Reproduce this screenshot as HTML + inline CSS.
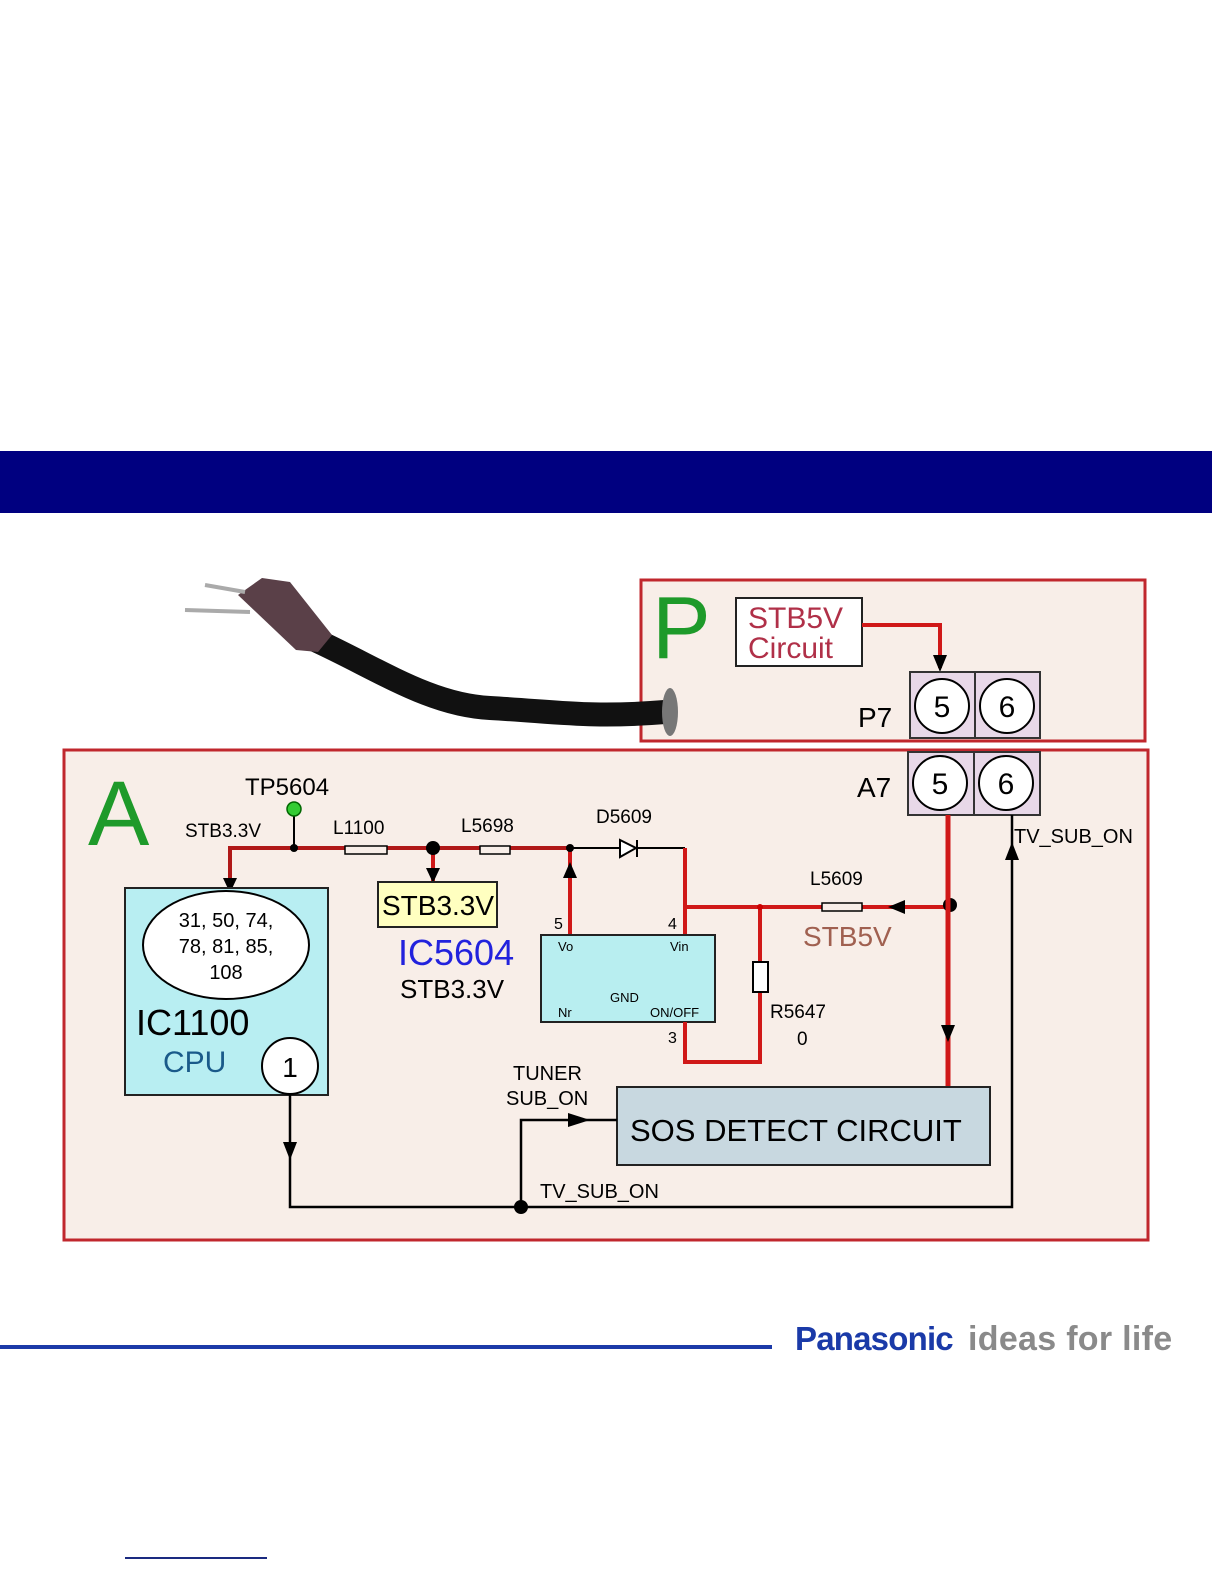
<!DOCTYPE html>
<html><head><meta charset="utf-8"><style>
html,body{margin:0;padding:0;background:#fff}
svg{display:block}
text{font-family:"Liberation Sans",Arial,sans-serif}
</style></head><body>
<svg width="1224" height="1584" viewBox="0 0 1224 1584" xmlns="http://www.w3.org/2000/svg">
<rect x="0" y="451" width="1212" height="62" fill="#000080"/>

<!-- P box -->
<rect x="641" y="580" width="504" height="161" fill="#f8eee8" stroke="#c0272d" stroke-width="3"/>
<!-- A box -->
<rect x="64" y="750" width="1084" height="490" fill="#f8eee8" stroke="#c0272d" stroke-width="3"/>

<!-- cord -->
<path d="M315,640 C380,670 430,705 490,708 C560,712 590,718 665,712" fill="none" stroke="#111" stroke-width="24" stroke-linecap="round"/>
<ellipse cx="670" cy="712" rx="8" ry="24" fill="#777"/>
<path d="M238,595 L262,578 L290,582 L332,635 L318,652 L296,650 Z" fill="#5a4048"/>
<line x1="205" y1="585" x2="245" y2="592" stroke="#aaa" stroke-width="4"/>
<line x1="185" y1="610" x2="250" y2="612" stroke="#aaa" stroke-width="4"/>

<text x="652" y="658" font-size="88" fill="#1e9a2a">P</text>
<rect x="736" y="598" width="126" height="68" fill="#fff" stroke="#222" stroke-width="2"/>
<text x="748" y="628" font-size="30" fill="#b03048">STB5V</text>
<text x="748" y="658" font-size="30" fill="#b03048">Circuit</text>
<path d="M862,625 H940 V668" fill="none" stroke="#d01818" stroke-width="4"/>
<path d="M933,655 L947,655 L940,672 Z" fill="#000"/>

<rect x="910" y="672" width="65" height="66" fill="#e8d8e8" stroke="#333" stroke-width="2"/>
<rect x="975" y="672" width="65" height="66" fill="#e8d8e8" stroke="#333" stroke-width="2"/>
<circle cx="942" cy="706" r="27" fill="#fff" stroke="#000" stroke-width="2"/>
<circle cx="1007" cy="706" r="27" fill="#fff" stroke="#000" stroke-width="2"/>
<text x="942" y="717" font-size="30" text-anchor="middle">5</text>
<text x="1007" y="717" font-size="30" text-anchor="middle">6</text>
<text x="858" y="727" font-size="28">P7</text>

<rect x="908" y="752" width="66" height="63" fill="#e8d8e8" stroke="#333" stroke-width="2"/>
<rect x="974" y="752" width="66" height="63" fill="#e8d8e8" stroke="#333" stroke-width="2"/>
<circle cx="940" cy="783" r="27" fill="#fff" stroke="#000" stroke-width="2"/>
<circle cx="1006" cy="783" r="27" fill="#fff" stroke="#000" stroke-width="2"/>
<text x="940" y="794" font-size="30" text-anchor="middle">5</text>
<text x="1006" y="794" font-size="30" text-anchor="middle">6</text>
<text x="857" y="797" font-size="28">A7</text>

<text x="88" y="845" font-size="92" fill="#1e9a2a">A</text>
<text x="245" y="795" font-size="24">TP5604</text>
<text x="185" y="837" font-size="19">STB3.3V</text>
<text x="333" y="834" font-size="19">L1100</text>
<text x="461" y="832" font-size="19">L5698</text>
<text x="596" y="823" font-size="19">D5609</text>

<path d="M230,890 V848 H570" fill="none" stroke="#b01818" stroke-width="4"/>
<path d="M223,878 L237,878 L230,893 Z" fill="#000"/>
<line x1="294" y1="848" x2="294" y2="812" stroke="#000" stroke-width="2"/>
<circle cx="294" cy="809" r="7" fill="#3c3" stroke="#060" stroke-width="1.5"/>
<circle cx="294" cy="848" r="4" fill="#000"/>
<rect x="345" y="846" width="42" height="8" fill="#f8eee8" stroke="#000" stroke-width="1.5"/>
<rect x="480" y="846" width="30" height="8" fill="#f8eee8" stroke="#000" stroke-width="1.5"/>
<path d="M433,848 V882" stroke="#d01818" stroke-width="4"/>
<circle cx="433" cy="848" r="7" fill="#000"/>
<path d="M426,868 L440,868 L433,883 Z" fill="#000"/>
<rect x="378" y="882" width="119" height="45" fill="#ffffc0" stroke="#222" stroke-width="2"/>
<text x="382" y="915" font-size="28">STB3.3V</text>
<text x="398" y="965" font-size="36" fill="#2222dd">IC5604</text>
<text x="400" y="998" font-size="26">STB3.3V</text>

<line x1="570" y1="848" x2="685" y2="848" stroke="#000" stroke-width="2"/>
<path d="M620,840 L620,857 L636,848 Z" fill="#fff" stroke="#000" stroke-width="2"/>
<line x1="637" y1="840" x2="637" y2="857" stroke="#000" stroke-width="2"/>
<path d="M685,848 V935" fill="none" stroke="#d01818" stroke-width="4"/>
<path d="M570,935 V848" stroke="#d01818" stroke-width="4"/>
<circle cx="570" cy="848" r="4" fill="#000"/>
<path d="M563,878 L577,878 L570,862 Z" fill="#000"/>

<rect x="541" y="935" width="174" height="87" fill="#b8eef0" stroke="#222" stroke-width="2"/>
<text x="558" y="951" font-size="13">Vo</text>
<text x="670" y="951" font-size="13">Vin</text>
<text x="610" y="1002" font-size="13">GND</text>
<text x="558" y="1017" font-size="13">Nr</text>
<text x="650" y="1017" font-size="13">ON/OFF</text>
<text x="554" y="929" font-size="16">5</text>
<text x="668" y="929" font-size="16">4</text>
<text x="668" y="1043" font-size="16">3</text>

<path d="M685,907 H950" fill="none" stroke="#d01818" stroke-width="4"/>
<path d="M760,907 V962 M760,992 V1062 H685 V1022" fill="none" stroke="#d01818" stroke-width="4"/>
<circle cx="760" cy="907" r="3" fill="#c00"/>
<rect x="753" y="962" width="15" height="30" fill="#fff" stroke="#000" stroke-width="2"/>
<rect x="822" y="903" width="40" height="8" fill="#f8eee8" stroke="#000" stroke-width="1.5"/>
<path d="M888,907 L905,900 L905,914 Z" fill="#000"/>
<circle cx="950" cy="905" r="7" fill="#000"/>
<text x="810" y="885" font-size="19">L5609</text>
<text x="803" y="946" font-size="28" fill="#a06050">STB5V</text>
<text x="770" y="1018" font-size="19">R5647</text>
<text x="797" y="1045" font-size="19">0</text>
<path d="M948,815 V1087" stroke="#d01818" stroke-width="5"/>
<path d="M941,1025 L955,1025 L948,1042 Z" fill="#000"/>

<rect x="617" y="1087" width="373" height="78" fill="#c8d8e0" stroke="#222" stroke-width="2"/>
<text x="630" y="1141" font-size="31">SOS DETECT CIRCUIT</text>

<rect x="125" y="888" width="203" height="207" fill="#b8eef2" stroke="#222" stroke-width="2"/>
<ellipse cx="226" cy="945" rx="83" ry="54" fill="#fff" stroke="#000" stroke-width="2"/>
<text x="226" y="927" font-size="20" text-anchor="middle">31, 50, 74,</text>
<text x="226" y="953" font-size="20" text-anchor="middle">78, 81, 85,</text>
<text x="226" y="979" font-size="20" text-anchor="middle">108</text>
<text x="136" y="1035" font-size="36">IC1100</text>
<text x="163" y="1072" font-size="30" fill="#1a5a8a">CPU</text>
<circle cx="290" cy="1066" r="28" fill="#fff" stroke="#000" stroke-width="2"/>
<text x="290" y="1077" font-size="28" text-anchor="middle">1</text>

<path d="M290,1095 V1207 H1012 V815" fill="none" stroke="#000" stroke-width="2.5"/>
<path d="M283,1142 L297,1142 L290,1160 Z" fill="#000"/>
<path d="M1005,860 L1019,860 L1012,842 Z" fill="#000"/>
<path d="M521,1207 V1120 H617" fill="none" stroke="#000" stroke-width="2.5"/>
<path d="M568,1113 L590,1120 L568,1127 Z" fill="#000"/>
<circle cx="521" cy="1207" r="7" fill="#000"/>
<text x="513" y="1080" font-size="20">TUNER</text>
<text x="506" y="1105" font-size="20">SUB_ON</text>
<text x="540" y="1198" font-size="20">TV_SUB_ON</text>
<text x="1014" y="843" font-size="20">TV_SUB_ON</text>

<rect x="0" y="1345" width="772" height="4" fill="#1c3aa8"/>
<text x="795" y="1350" font-size="33" font-weight="bold" fill="#1a3aa8" letter-spacing="-0.8">Panasonic</text>
<text x="968" y="1350" font-size="34" font-weight="bold" fill="#8a8a8a" letter-spacing="0.3">ideas for life</text>
<rect x="125" y="1557" width="142" height="2" fill="#1a2a80"/>
</svg>
</body></html>
